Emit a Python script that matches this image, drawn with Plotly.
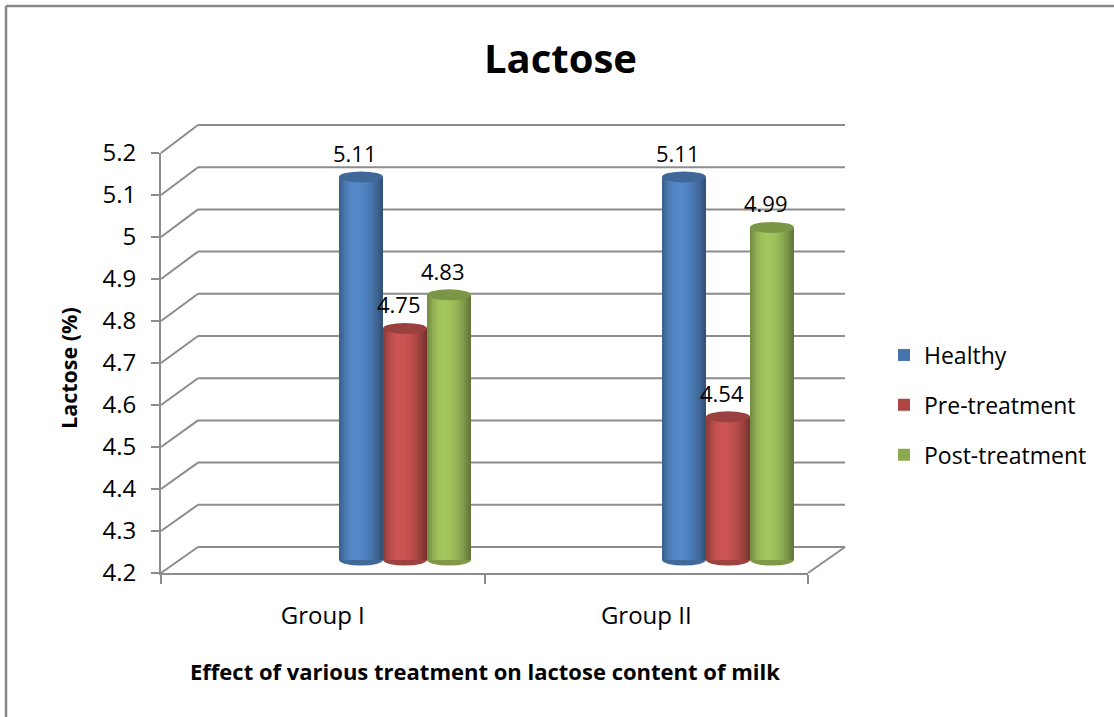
import plotly.graph_objects as go

# ---- data -------------------------------------------------------------
categories = ["Group I", "Group II"]
series_names = ["Healthy", "Pre-treatment", "Post-treatment"]
healthy = [5.11, 5.11]
pre_treatment = [4.75, 4.54]
post_treatment = [4.83, 4.99]
y_tick_values = [4.2, 4.3, 4.4, 4.5, 4.6, 4.7, 4.8, 4.9, 5.0, 5.1, 5.2]
y_tick_labels = ["4.2", "4.3", "4.4", "4.5", "4.6", "4.7", "4.8", "4.9", "5", "5.1", "5.2"]

chart_title = "Lactose"
x_title = "Effect of various treatment on lactose content of milk"
y_title = "Lactose (%)"

# ---- styling ----------------------------------------------------------
series_values = [healthy, pre_treatment, post_treatment]
base_colors = ["#4F81BD", "#C0504D", "#9BBB59"]
legend_colors = ["#4774AD", "#AD4643", "#8CA84F"]
GRID = "#8c8c8c"
FONT = "Open Sans"

W, H = 1114, 717


def px(x):
    return x / W


def py(y):
    return 1 - y / H


# 3-D box geometry (pixels): front plane and back wall
FX0, FX1, FYB, FYT = 161, 808, 573, 153
BX0, BX1, BYB, BYT = 198, 845, 547, 125
Y_MIN, Y_MAX = 4.2, 5.2

# bar plane (mid depth)
BAR_YB, BAR_YT = 560, 139
BAR_SCALE = (BAR_YB - BAR_YT) / (Y_MAX - Y_MIN)
CAT0, CAT_UNIT = 405, 323
BAR_W = 44 / CAT_UNIT
PAD_LO, PAD_HI = 0.05, 0.1
ELL_H = 5.5 / BAR_SCALE


def shade(hex_color, k):
    h = hex_color.lstrip("#")
    r, g, b = (int(h[i:i + 2], 16) for i in (0, 2, 4))
    c = [max(0, min(255, int(round(v * k)))) for v in (r, g, b)]
    return f"rgb({c[0]},{c[1]},{c[2]})"


def cyl_profile(t, tp=0.38, kp=1.06, kl=0.72, kr=0.6):
    if t < tp:
        return kp - (kp - kl) * ((tp - t) / tp) ** 2
    return kp - (kp - kr) * ((t - tp) / (1 - tp)) ** 2


fig = go.Figure()
xpos = list(range(len(categories)))
N_STRIPS = 18
step = BAR_W / N_STRIPS
shapes = []
annotations = []

for s, (name, vals) in enumerate(zip(series_names, series_values)):
    off = (s - 1) * BAR_W - BAR_W / 2
    heights = [v - Y_MIN for v in vals]
    # solid bar carrying the legend entry
    fig.add_trace(go.Bar(
        x=xpos, y=heights, base=Y_MIN, name=name,
        offset=off, width=BAR_W,
        marker=dict(color=legend_colors[s], line=dict(width=0)),
        legendgroup=name, hovertemplate=name + ": %{customdata}<extra></extra>",
        customdata=vals,
    ))
    # cylinder shading strips
    for j in range(N_STRIPS):
        t = (j + 0.5) / N_STRIPS
        wdt = step * (1.6 if j < N_STRIPS - 1 else 1.0)
        fig.add_trace(go.Bar(
            x=xpos, y=heights, base=Y_MIN,
            offset=off + j * step, width=wdt,
            marker=dict(color=shade(base_colors[s], cyl_profile(t)), line=dict(width=0)),
            showlegend=False, legendgroup=name, hoverinfo="skip",
        ))
    for i, v in enumerate(vals):
        x0 = i + off
        x1 = x0 + BAR_W
        # top face
        shapes.append(dict(type="circle", xref="x", yref="y", x0=x0, x1=x1,
                           y0=v - ELL_H, y1=v + ELL_H, layer="above",
                           fillcolor=shade(base_colors[s], 0.8), line=dict(width=0)))
        # rounded bottom
        shapes.append(dict(type="circle", xref="x", yref="y", x0=x0, x1=x1,
                           y0=Y_MIN - ELL_H, y1=Y_MIN + ELL_H, layer="below",
                           fillcolor=shade(base_colors[s], 0.82), line=dict(width=0)))
        annotations.append(dict(x=i + off + BAR_W / 2, y=v, xref="x", yref="y",
                                text=f"{v:.2f}", showarrow=False, yanchor="bottom",
                                yshift=7, xshift=-6,
                                font=dict(family=FONT, size=22, color="#000")))

# front plane axes (tick labels, axis lines)
fig.add_trace(go.Scatter(x=categories, y=[None, None], xaxis="x2", yaxis="y2",
                         showlegend=False, hoverinfo="skip"))

# back wall gridlines and depth connectors
for v in y_tick_values:
    f = (v - Y_MIN) / (Y_MAX - Y_MIN)
    yb = BYB - f * (BYB - BYT)
    yf = FYB - f * (FYB - FYT)
    shapes.append(dict(type="line", xref="paper", yref="paper", layer="below",
                       x0=px(BX0), x1=px(BX1), y0=py(yb), y1=py(yb),
                       line=dict(color=GRID, width=2)))
    shapes.append(dict(type="line", xref="paper", yref="paper", layer="below",
                       x0=px(FX0), x1=px(BX0), y0=py(yf), y1=py(yb),
                       line=dict(color=GRID, width=2)))
shapes.append(dict(type="line", xref="paper", yref="paper", layer="below",
                   x0=px(FX1), x1=px(BX1), y0=py(FYB), y1=py(BYB),
                   line=dict(color=GRID, width=2)))

# chart border
shapes.append(dict(type="line", xref="paper", yref="paper", x0=px(6), x1=1,
                   y0=py(6), y1=py(6), line=dict(color="#878787", width=2.5)))
shapes.append(dict(type="line", xref="paper", yref="paper", x0=px(6), x1=px(6),
                   y0=py(6), y1=0, line=dict(color="#878787", width=2.5)))

annotations += [
    dict(x=px(560), y=py(58), xref="paper", yref="paper", text=chart_title,
         showarrow=False, xanchor="center", yanchor="middle",
         font=dict(family=FONT, size=40, color="#000", weight="bold")),
    dict(x=px(485), y=py(671), xref="paper", yref="paper", text=x_title,
         showarrow=False, xanchor="center", yanchor="middle",
         font=dict(family=FONT, size=22, color="#000", weight="bold")),
    dict(x=px(68), y=py(368), xref="paper", yref="paper", text=y_title,
         showarrow=False, xanchor="center", yanchor="middle", textangle=-90,
         font=dict(family=FONT, size=21.5, color="#000", weight="bold")),
]

fig.update_layout(
    width=W, height=H, autosize=False,
    margin=dict(l=0, r=0, t=0, b=0, pad=0, autoexpand=False),
    paper_bgcolor="white", plot_bgcolor="rgba(0,0,0,0)",
    barmode="overlay", showlegend=True,
    font=dict(family=FONT, size=22, color="#000"),
    xaxis=dict(domain=[px(CAT0 - 0.5 * CAT_UNIT), px(CAT0 + 1.5 * CAT_UNIT)],
               range=[-0.5, 1.5], anchor="y", visible=False, fixedrange=True,
               automargin=False),
    yaxis=dict(domain=[py(BAR_YB + PAD_LO * BAR_SCALE), py(BAR_YT - PAD_HI * BAR_SCALE)],
               range=[Y_MIN - PAD_LO, Y_MAX + PAD_HI], anchor="x", visible=False,
               fixedrange=True, automargin=False),
    xaxis2=dict(domain=[px(FX0), px(FX1)], anchor="y2", type="category",
                categoryorder="array", categoryarray=categories, range=[-0.5, 1.5],
                showline=True, linecolor=GRID, linewidth=2, showgrid=False,
                zeroline=False, ticks="outside", tickson="boundaries", ticklen=9,
                tickwidth=2, tickcolor=GRID, ticklabelstandoff=20, automargin=False,
                tickfont=dict(family=FONT, size=24, color="#000"), fixedrange=True),
    yaxis2=dict(domain=[py(FYB), py(FYT)], anchor="x2", range=[Y_MIN, Y_MAX],
                tickvals=y_tick_values, ticktext=y_tick_labels,
                showline=True, linecolor=GRID, linewidth=2, showgrid=False,
                zeroline=False, ticks="outside", ticklen=8, tickwidth=2,
                tickcolor=GRID, ticklabelstandoff=10, automargin=False,
                tickfont=dict(family=FONT, size=24, color="#000"), fixedrange=True),
    legend=dict(x=px(884), y=py(405), xanchor="left", yanchor="middle",
                bgcolor="rgba(0,0,0,0)", traceorder="grouped", tracegroupgap=17,
                font=dict(family=FONT, size=23, color="#000")),
    shapes=shapes,
    annotations=annotations,
)

fig.write_html("out.html")
